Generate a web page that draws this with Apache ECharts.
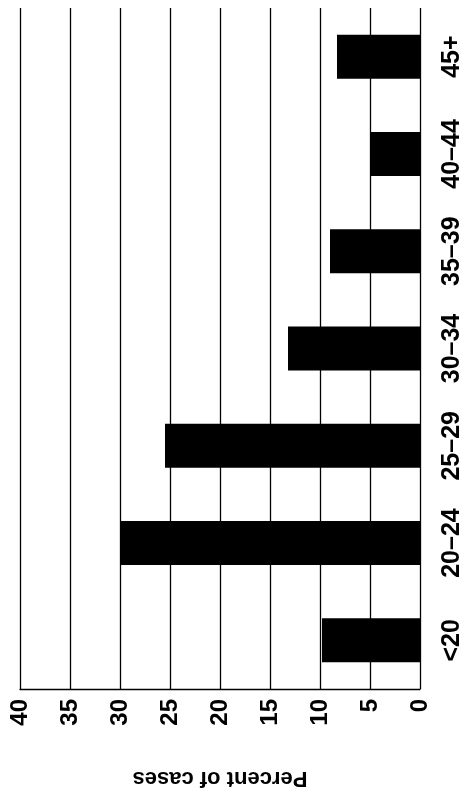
<!DOCTYPE html>
<html>
<head>
<meta charset="utf-8">
<script src="https://cdn.jsdelivr.net/npm/echarts@6/dist/echarts.min.js"></script>
<style>
  html, body { margin: 0; padding: 0; background: #fff; }
  #chart { width: 469px; height: 794px; }
</style>
</head>
<body>
<div id="chart"></div>
<script>
// age groups, first one at the bottom
const ageGroups = ['<20', '20–24', '25–29', '30–34', '35–39', '40–44', '45+']
// percent of cases
const percentValues = [9.8, 30.0, 25.5, 13.2, 9.0, 4.9, 8.3]
const valueTicks = { min: 0, max: 40, step: 5 }

const FONT = 'Liberation Sans, Arial, Helvetica, sans-serif'

const chart = echarts.init(document.getElementById('chart'), null, { renderer: 'canvas' })

const option = {
  backgroundColor: '#fff',
  animation: false,
  grid: { left: 20, right: 49, top: 8, bottom: 94 },
  xAxis: {
    type: 'value',
    inverse: true, // 0 sits on the right
    position: 'bottom',
    min: valueTicks.min,
    max: valueTicks.max,
    interval: valueTicks.step,
    name: 'Percent of cases',
    nameLocation: 'middle',
    nameGap: 78,
    nameRotate: 180,
    nameTextStyle: { fontFamily: FONT, fontSize: 22, fontWeight: 'bold', color: '#000' },
    axisLine: { show: true, lineStyle: { color: '#000', width: 1.3 } },
    axisTick: { show: false },
    axisLabel: { rotate: 90, margin: 10, fontFamily: FONT, fontSize: 24, fontWeight: 'bold', color: '#000' },
    splitLine: { show: true, lineStyle: { color: '#000', width: 1.3 } }
  },
  yAxis: {
    type: 'category',
    position: 'right',
    data: ageGroups,
    axisLine: { show: false },
    axisTick: { show: false },
    axisLabel: { rotate: 90, margin: 20, fontFamily: FONT, fontSize: 25, fontWeight: 'bold', color: '#000' }
  },
  series: [{
    type: 'bar',
    data: percentValues,
    barWidth: 44,
    itemStyle: { color: '#000' }
  }]
}

chart.setOption(option)
</script>
</body>
</html>
